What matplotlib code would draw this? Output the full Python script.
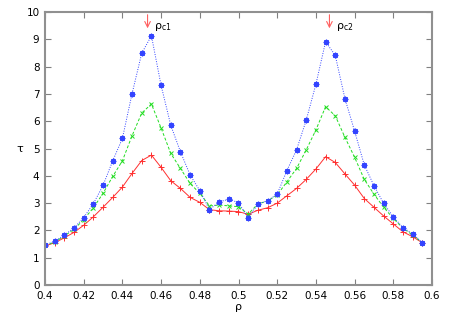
import matplotlib
matplotlib.use("Agg")
import matplotlib.pyplot as plt
import numpy as np

plt.rcParams["mathtext.default"] = "regular"

rho = [0.400, 0.405, 0.410, 0.415, 0.420, 0.425, 0.430, 0.435, 0.440, 0.445,
       0.450, 0.455, 0.460, 0.465, 0.470, 0.475, 0.480, 0.485, 0.490, 0.495,
       0.500, 0.505, 0.510, 0.515, 0.520, 0.525, 0.530, 0.535, 0.540, 0.545,
       0.550, 0.555, 0.560, 0.565, 0.570, 0.575, 0.580, 0.585, 0.590, 0.595]

tau_red = [1.43, 1.55, 1.73, 1.93, 2.19, 2.50, 2.85, 3.21, 3.59, 4.09,
           4.56, 4.76, 4.31, 3.82, 3.54, 3.21, 3.03, 2.76, 2.72, 2.71,
           2.69, 2.59, 2.74, 2.83, 3.00, 3.27, 3.54, 3.87, 4.25, 4.70,
           4.49, 4.07, 3.66, 3.17, 2.85, 2.53, 2.24, 1.95, 1.77, 1.55]

tau_green = [1.45, 1.57, 1.80, 2.04, 2.40, 2.83, 3.36, 3.98, 4.55, 5.47,
             6.30, 6.63, 5.75, 4.82, 4.27, 3.72, 3.36, 2.90, 2.93, 2.90,
             2.87, 2.60, 2.97, 3.08, 3.30, 3.78, 4.27, 4.95, 5.68, 6.53,
             6.20, 5.41, 4.68, 3.87, 3.33, 2.85, 2.44, 2.08, 1.83, 1.55]

tau_blue = [1.47, 1.60, 1.83, 2.09, 2.47, 2.98, 3.65, 4.55, 5.37, 7.01,
            8.49, 9.13, 7.31, 5.85, 4.88, 4.03, 3.46, 2.76, 3.05, 3.14,
            3.02, 2.46, 2.96, 3.09, 3.33, 4.19, 4.95, 6.04, 7.35, 8.91,
            8.41, 6.83, 5.64, 4.40, 3.64, 2.99, 2.50, 2.10, 1.88, 1.55]

rho_c = [0.453, 0.547]
rho_c_labels = [r"$\rho_{c1}$", r"$\rho_{c2}$"]

fig = plt.figure(figsize=(4.5, 3.15), dpi=100)
ax = fig.add_axes([0.1, 0.095, 0.86, 0.867])

ax.plot(rho, tau_red, color="#ff3030", lw=0.7, marker="+", ms=4, mew=0.7)
ax.plot(rho, tau_green, color="#22dd22", lw=0.7, ls=(0, (3, 2)), marker="x", ms=3.5, mew=0.7)
ax.plot(rho, tau_blue, color="#3344ff", lw=0.7, ls=(0, (1, 1.5)), marker=(8, 2, 0), ms=4, mew=0.9)

for xc, lab in zip(rho_c, rho_c_labels):
    ax.annotate("", xy=(xc, 9.3), xytext=(xc, 10.0),
                arrowprops=dict(arrowstyle="->", color="#ff6060", lw=0.8))
    ax.text(xc + 0.0035, 9.45, lab, fontsize=8, ha="left", va="center")

ax.set_xlim(0.4, 0.6)
ax.set_ylim(0, 10)
ax.set_xticks(np.arange(0.4, 0.6001, 0.02))
ax.set_xticklabels(["0.4", "0.42", "0.44", "0.46", "0.48", "0.5", "0.52", "0.54", "0.56", "0.58", "0.6"])
ax.set_yticks(range(0, 11))
ax.tick_params(direction="in", top=True, right=True, labelsize=7.5, length=4, color="#808080", width=0.8, pad=4)
for s in ax.spines.values():
    s.set_color("#909090")
    s.set_linewidth(1.5)
ax.set_xlabel("ρ", fontsize=8, labelpad=1)
ax.set_ylabel("τ", fontsize=8, labelpad=5, rotation=0, va="center")

fig.savefig("out.png", dpi=100)
